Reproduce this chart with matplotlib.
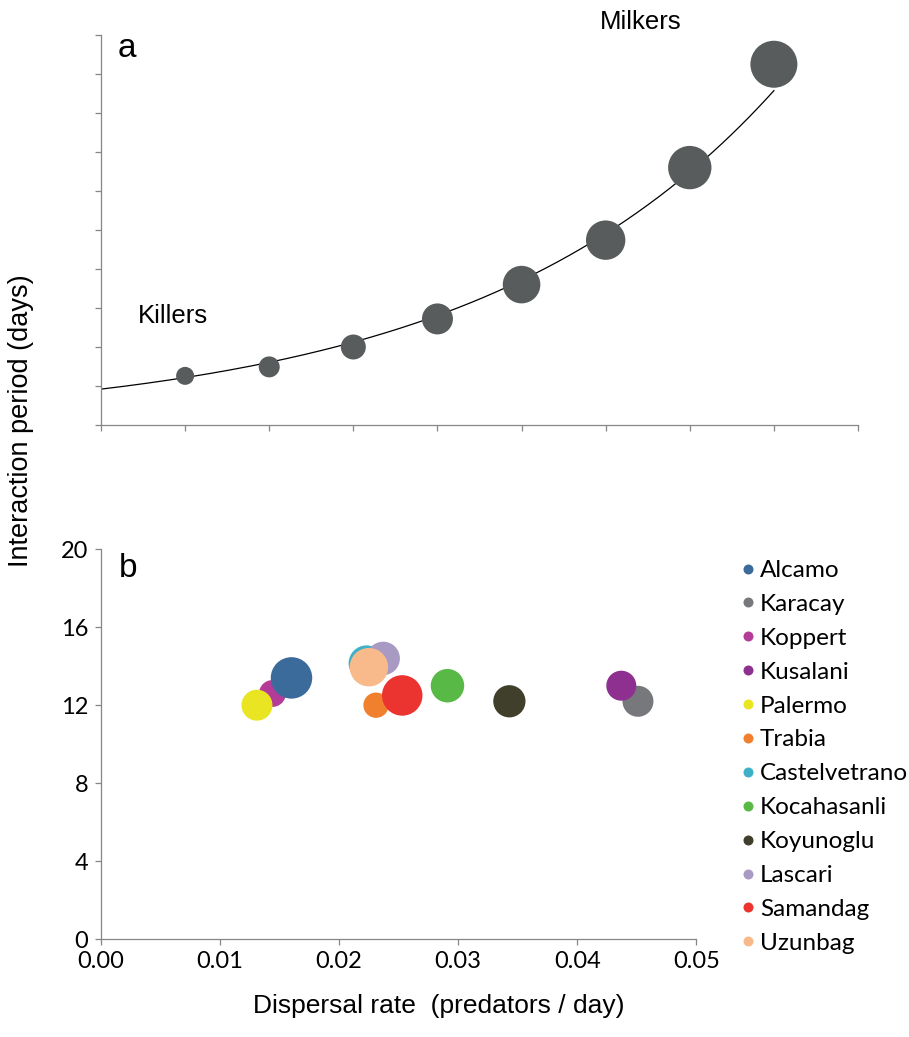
import numpy as np
import matplotlib
matplotlib.use("Agg")
import matplotlib.pyplot as plt
from matplotlib.lines import Line2D

# ---- Panel a: conceptual killer -> milker gradient ----
strategy_x = [1, 2, 3, 4, 5, 6, 7, 8]
strategy_period = [1.26, 1.49, 2.00, 2.72, 3.60, 4.74, 6.60, 9.25]
strategy_bubble = [0.81, 1.10, 1.56, 2.40, 3.53, 3.88, 4.70, 5.52]
# exponential trend y = a * exp(b * x)
trend_a = 0.92
trend_b = 0.279

# ---- Panel b: populations ----
populations = ["Alcamo", "Karacay", "Koppert", "Kusalani", "Palermo", "Trabia",
               "Castelvetrano", "Kocahasanli", "Koyunoglu", "Lascari",
               "Samandag", "Uzunbag"]
dispersal_rate = [0.0160, 0.0451, 0.0144, 0.0437, 0.0131, 0.0231,
                  0.0223, 0.0291, 0.0343, 0.0237, 0.0253, 0.0225]
interaction_period = [13.4, 12.2, 12.6, 13.0, 12.0, 12.0,
                      14.15, 13.0, 12.2, 14.4, 12.5, 13.95]
pop_bubble = [4.3, 2.4, 1.8, 2.25, 2.4, 1.6, 3.2, 2.8, 2.6, 2.8, 4.1, 3.7]
pop_colors = ["#3A6B9B", "#77787B", "#B23C97", "#8E3090", "#EAE522", "#F07F2E",
              "#3EB1C8", "#58B947", "#403F2B", "#A99AC3", "#EB3330", "#F8BA8A"]

x_ticks_b = [0.00, 0.01, 0.02, 0.03, 0.04, 0.05]
y_ticks_b = [0, 4, 8, 12, 16, 20]

ARIAL = ["Liberation Sans", "DejaVu Sans"]
CALIBRI = ["Lato", "DejaVu Sans"]
AXIS_GRAY = "#868686"
BUBBLE_SCALE = 207.36  # converts bubble value to marker area (pt^2)

W, H = 909, 1037
fig = plt.figure(figsize=(W / 100, H / 100), dpi=100)


def frac_box(left, top, right, bottom):
    return [left / W, 1 - bottom / H, (right - left) / W, (bottom - top) / H]


def style_axes(ax):
    for side in ("top", "right"):
        ax.spines[side].set_visible(False)
    for side in ("left", "bottom"):
        ax.spines[side].set_color(AXIS_GRAY)
        ax.spines[side].set_linewidth(0.9)
    ax.tick_params(axis="both", direction="out", length=4.3, width=0.9,
                   color=AXIS_GRAY)


# Panel a
ax1 = fig.add_axes(frac_box(101, 35, 858, 425))
style_axes(ax1)
ax1.set_xlim(0, 9)
ax1.set_ylim(0, 10)
ax1.set_xticks(np.arange(0, 10))
ax1.set_yticks(np.arange(0, 11))
ax1.tick_params(labelbottom=False, labelleft=False)

xs = np.linspace(0, strategy_x[-1], 300)
ax1.plot(xs, trend_a * np.exp(trend_b * xs), color="black", lw=0.9, zorder=2)
ax1.scatter(strategy_x, strategy_period,
            s=np.array(strategy_bubble) * BUBBLE_SCALE,
            color="#585C5C", edgecolors="none", zorder=3, clip_on=False)

ax1.text(0.0225, 0.943, "a", transform=ax1.transAxes, fontsize=24,
         family=ARIAL, va="baseline", ha="left")
ax1.text(0.0489, 0.2623, "Killers", transform=ax1.transAxes, fontsize=18.5,
         family=ARIAL, va="baseline", ha="left")
ax1.text(0.659, 1.0154, "Milkers", transform=ax1.transAxes, fontsize=18.5,
         family=ARIAL, va="baseline", ha="left")

# Panel b
ax2 = fig.add_axes(frac_box(101, 549.3, 696.3, 939))
style_axes(ax2)
ax2.set_xlim(0, 0.05)
ax2.set_ylim(0, 20)
ax2.set_xticks(x_ticks_b)
ax2.set_yticks(y_ticks_b)
ax2.set_xticklabels([f"{v:.2f}" for v in x_ticks_b])
ax2.set_yticklabels([str(v) for v in y_ticks_b])
ax2.tick_params(axis="x", pad=4.5)
ax2.tick_params(axis="y", pad=5)
for lab in ax2.get_xticklabels() + ax2.get_yticklabels():
    lab.set_family(CALIBRI)
    lab.set_fontsize(17)

layer = {"Koppert": 2.5}
for name, x, y, b, c in zip(populations, dispersal_rate, interaction_period,
                            pop_bubble, pop_colors):
    ax2.scatter([x], [y], s=b * BUBBLE_SCALE, color=c, edgecolors="none",
                zorder=layer.get(name, 3))

ax2.text(0.0307, 0.928, "b", transform=ax2.transAxes, fontsize=24,
         family=ARIAL, va="baseline", ha="left")

handles = [Line2D([], [], ls="none", marker="o", markersize=7.2,
                  markerfacecolor=c, markeredgecolor="none")
           for c in pop_colors]
leg = fig.legend(handles, populations, loc="upper left",
                 bbox_to_anchor=(742.4 / W, 1 - 560 / H),
                 frameon=False, borderpad=0, borderaxespad=0,
                 handlelength=0.5, handletextpad=0.22, labelspacing=0.53,
                 prop={"family": CALIBRI, "size": 17.5})

fig.text(439 / W, 1 - 1013 / H, "Dispersal rate  (predators / day)",
         fontsize=19, family=ARIAL, ha="center", va="baseline")
fig.text(21 / W, 1 - 421 / H, "Interaction period (days)", rotation=90,
         fontsize=19.5, family=ARIAL, ha="center", va="center")

fig.savefig("out.png", dpi=100)
